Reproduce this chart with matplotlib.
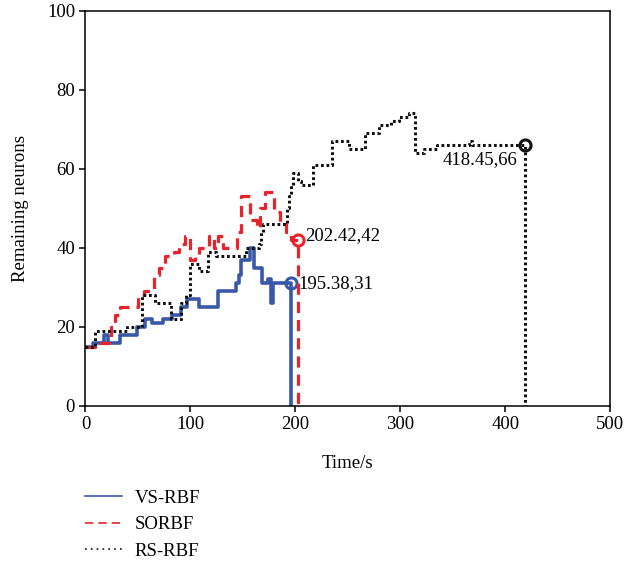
import matplotlib
matplotlib.use("Agg")
import matplotlib.pyplot as plt
from matplotlib.lines import Line2D

plt.rcParams["font.family"] = ["Liberation Serif", "DejaVu Serif"]
plt.rcParams["font.size"] = 13.5

# step curves: time (s) where the count changes, and the count from then on
vs_t = [0, 7, 18, 21, 33, 49, 57, 63, 74, 82, 91, 97, 108, 126, 143, 146, 148, 157, 161, 168, 174, 177, 179, 195.38]
vs_v = [15, 16, 18, 16, 18, 20, 22, 21, 22, 23, 25, 27, 25, 29, 31, 33, 37, 40, 35, 31, 32, 26, 31, 31]

so_t = [0, 9, 24, 28, 33, 50, 56, 65, 70, 76, 84, 89, 95, 100, 104, 108, 118, 122, 126, 131,
        144, 148, 157, 163, 166, 171, 180, 185, 191, 196, 202.42]
so_v = [15, 16, 20, 23, 25, 28, 29, 33, 35, 38, 39, 41, 43, 37, 38, 40, 43, 40, 43, 40,
        44, 53, 47, 45, 50, 54, 49, 46, 44, 42, 42]

rs_t = [0, 9, 40, 54, 66, 81, 91, 96, 100, 108, 117, 124, 153, 165, 167, 169, 192, 194, 196, 198,
        202, 205, 217, 235, 251, 266, 280, 291, 299, 308, 314, 323, 335, 365, 368, 418.45]
rs_v = [15, 19, 20, 28, 26, 22, 26, 28, 36, 34, 39, 38, 40, 41, 44, 46, 50, 53, 56, 59,
        57, 56, 61, 67, 65, 69, 71, 72, 73, 74, 64, 65, 66, 67, 66, 66]

labels = ["VS-RBF", "SORBF", "RS-RBF"]
ends = [(195.38, 31), (202.42, 42), (418.45, 66)]

blue = "#3a58a8"
red = "#e8232b"
black = "#111111"

fig = plt.figure(figsize=(6.24, 5.66), dpi=100)
ax = fig.add_axes([0.137, 0.283, 0.841, 0.698])

series = [
    (vs_t, vs_v, dict(color=blue, lw=2.6, ls="-")),
    (so_t, so_v, dict(color=red, lw=2.3, ls=(0, (3.5, 2.2)))),
    (rs_t, rs_v, dict(color=black, lw=2.2, ls=(0, (0.9, 0.9)))),
]

for (t, v, style), (te, ve) in zip(series, ends):
    # run the last value out to the end time, then drop to zero
    ax.plot(t + [te], v + [0], drawstyle="steps-post", **style)
    ax.plot([te], [ve], marker="o", ms=8, mfc="none", mew=2.2,
            color=style["color"], ls="none")

ax.annotate("195.38,31", ends[0], xytext=(6, 0), textcoords="offset points",
            va="center", ha="left")
ax.annotate("202.42,42", ends[1], xytext=(5, 3), textcoords="offset points",
            va="center", ha="left")
ax.annotate("418.45,66", ends[2], xytext=(-5, -4), textcoords="offset points",
            va="top", ha="right")

ax.set_xlim(0, 500)
ax.set_ylim(0, 100)
ax.set_xticks([0, 100, 200, 300, 400, 500])
ax.set_yticks([0, 20, 40, 60, 80, 100])
ax.tick_params(direction="out", length=4, width=1.1)
for s in ax.spines.values():
    s.set_linewidth(1.1)

ax.set_xlabel("Time/s", labelpad=16)
ax.set_ylabel("Remaining neurons", labelpad=13)

handles = [
    Line2D([], [], color=blue, lw=1.2, ls="-"),
    Line2D([], [], color=red, lw=1.2, ls=(0, (5, 3))),
    Line2D([], [], color=black, lw=1.2, ls=(0, (1, 2.5))),
]
fig.legend(handles, labels, loc="upper left", bbox_to_anchor=(0.136, 0.135),
           frameon=False, handlelength=2.0, handletextpad=0.65,
           labelspacing=0.5, borderpad=0, borderaxespad=0)

fig.savefig("out.png", dpi=100)
